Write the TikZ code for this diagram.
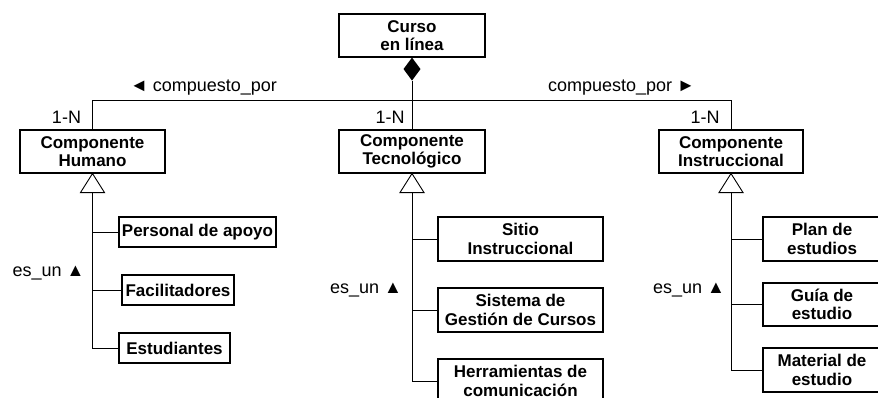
\documentclass[tikz,border=0pt]{standalone}
\usepackage{fontspec}
\setmainfont{Liberation Sans}
\usetikzlibrary{calc}
\begin{document}
\begin{tikzpicture}[x=1pt,y=-1pt,
  cls/.style={draw=black,line width=1.1pt,fill=white,inner sep=0pt,align=center,
    font=\fontsize{17}{18.5}\selectfont\bfseries},
  lbl/.style={inner sep=0pt,font=\fontsize{18}{20}\selectfont},
  conn/.style={draw=black,line width=0.8pt},
  gen/.style={draw=black,line width=0.9pt,fill=white}]
\useasboundingbox (0,0) rectangle (878,397);
% top class
\node[cls,minimum width=146pt,minimum height=43pt] (curso) at (412,35.5) {Curso\\en línea};
% components
\node[cls,minimum width=145pt,minimum height=43pt] (humano) at (92.5,151.5) {Componente\\Humano};
\node[cls,minimum width=146pt,minimum height=43pt] (tecno) at (412,151.5) {Componente\\Tecnológico};
\node[cls,minimum width=144pt,minimum height=43pt] (instr) at (731,151.5) {Componente\\Instruccional};
% subclasses left
\node[cls,minimum width=157pt,minimum height=30pt] (personal) at (197.5,232) {Personal de apoyo};
\node[cls,minimum width=112pt,minimum height=30pt] (facil) at (178,290) {Facilitadores};
\node[cls,minimum width=111pt,minimum height=30pt] (estud) at (174.5,348) {Estudiantes};
% subclasses middle
\node[cls,minimum width=165pt,minimum height=44pt] (sitio) at (520.5,239) {Sitio\\Instruccional};
\node[cls,minimum width=165pt,minimum height=44pt] (sistema) at (520.5,310) {Sistema de\\Gestión de Cursos};
\node[cls,minimum width=165pt,minimum height=44pt] (herram) at (520.5,381) {Herramientas de\\comunicación};
% subclasses right
\node[cls,minimum width=118pt,minimum height=44pt] (plan) at (822,239) {Plan de\\estudios};
\node[cls,minimum width=118pt,minimum height=43pt] (guia) at (822,304.5) {Guía de\\estudio};
\node[cls,minimum width=118pt,minimum height=44pt] (material) at (822,370) {Material de\\estudio};
% composition
\coordinate (dtop) at (curso.south);
\coordinate (dbot) at ($(curso.south)+(0,23)$);
\coordinate (bus) at ($(curso.south)+(0,43)$);
\draw[conn] (dbot) -- (tecno.north);
\draw[conn] (humano.north) |- (bus) -| (instr.north);
\fill[black] (dtop) -- ($(dtop)+(8.5,11.5)$) -- (dbot) -- ($(dtop)+(-8.5,11.5)$) -- cycle;
% labels
\node[lbl] (cpl) at (203.5,88) {◄ compuesto\_por};
\node[lbl] (cpr) at (621.5,88) {compuesto\_por ►};
\node[lbl] (n1) at (66.5,117) {1-N};
\node[lbl] (n2) at (390,117) {1-N};
\node[lbl] (n3) at (705,117) {1-N};
\node[lbl] (e1) at (48.5,273) {es\_un ▲};
\node[lbl] (e2) at (366,290) {es\_un ▲};
\node[lbl] (e3) at (689,290) {es\_un ▲};
% generalisation left
\coordinate (g1) at ($(humano.south)+(0,19)$);
\draw[conn] (g1) |- (estud.west);
\draw[conn] (g1 |- personal.west) -- (personal.west);
\draw[conn] (g1 |- facil.west) -- (facil.west);
\draw[gen] (humano.south) -- ($(g1)+(-12,0)$) -- ($(g1)+(12,0)$) -- cycle;
% generalisation middle
\coordinate (g2) at ($(tecno.south)+(0,19)$);
\draw[conn] (g2) |- (herram.west);
\draw[conn] (g2 |- sitio.west) -- (sitio.west);
\draw[conn] (g2 |- sistema.west) -- (sistema.west);
\draw[gen] (tecno.south) -- ($(g2)+(-12,0)$) -- ($(g2)+(12,0)$) -- cycle;
% generalisation right
\coordinate (g3) at ($(instr.south)+(0,19)$);
\draw[conn] (g3) |- (material.west);
\draw[conn] (g3 |- plan.west) -- (plan.west);
\draw[conn] (g3 |- guia.west) -- (guia.west);
\draw[gen] (instr.south) -- ($(g3)+(-12,0)$) -- ($(g3)+(12,0)$) -- cycle;
\end{tikzpicture}
\end{document}
